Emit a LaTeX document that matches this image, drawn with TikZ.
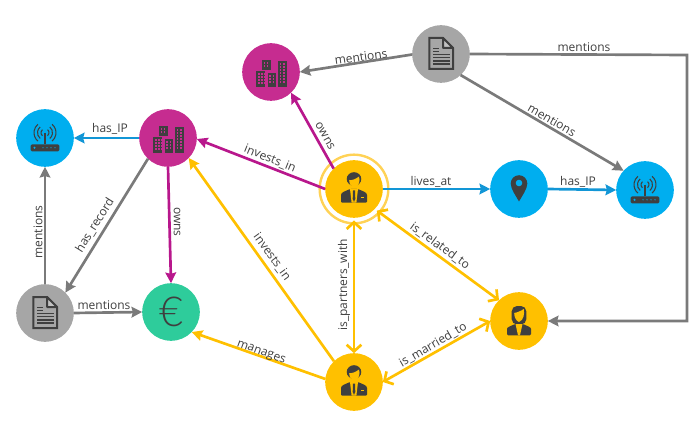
\documentclass[tikz,border=0pt]{standalone}
\usepackage{fontspec}
\setmainfont{Open Sans}
\newfontfamily\eurofont{Lato Light}
\usetikzlibrary{arrows.meta}
\definecolor{skyfill}{HTML}{00AEEF}
\definecolor{skyline}{HTML}{1296D6}
\definecolor{plumfill}{HTML}{C62C90}
\definecolor{plumline}{HTML}{B8178C}
\definecolor{ashfill}{HTML}{A6A6A6}
\definecolor{ashline}{HTML}{7A7A7A}
\definecolor{goldfill}{HTML}{FFC000}
\definecolor{ringline}{HTML}{FFD256}
\definecolor{mintfill}{HTML}{2ECC9B}
\definecolor{icon}{HTML}{3F3F3F}
\tikzset{
	disc/.style={circle,minimum size=43.2pt,inner sep=0pt,outer sep=0pt},
	sky/.style={disc,fill=skyfill},
	plum/.style={disc,fill=plumfill},
	ash/.style={disc,fill=ashfill},
	gold/.style={disc,fill=goldfill},
	mint/.style={disc,fill=mintfill},
	rel/.style={text=icon,inner sep=0pt,font=\fontsize{9}{10}\selectfont},
	skyedge/.style={draw=skyline,line width=2pt,-{Stealth[length=8pt,width=8pt,inset=1pt]}},
	plumedge/.style={draw=plumline,line width=2pt,-{Stealth[length=8pt,width=8pt,inset=1pt]}},
	ashedge/.style={draw=ashline,line width=2pt,-{Stealth[length=8pt,width=8pt,inset=1pt]}},
	goldedge/.style={draw=goldfill,line width=2pt,-{Stealth[length=8pt,width=8pt,inset=1pt]}},
	kinedge/.style={draw=goldfill,line width=2pt,{Straight Barb[length=5pt,width=11pt]}-{Straight Barb[length=5pt,width=11pt]}},
	pics/building/.style={code={
		\fill[icon] (-14.7,-1.3) rectangle (-5.7,14.7);
		\fill[icon] (-9.3,-12) rectangle (0,-2);
		\fill[icon] (-3.3,1.3) rectangle (5.3,14.7);
		\fill[icon] (7,-10.7) rectangle (16.3,14.7);
		\foreach \i in {-13,-10,-7.3}
			\foreach \j in {1,4,7,10}
				\fill[plumfill] (\i,\j) rectangle ++(1.6,1.6);
		\foreach \i in {-7.5,-4.5}
			\foreach \j in {-10,-7}
				\fill[plumfill] (\i,\j) rectangle ++(1.6,1.6);
		\foreach \i in {-1.6,1.8}
			\foreach \j in {3.5,6.5,9.5}
				\fill[plumfill] (\i,\j) rectangle ++(1.6,1.6);
		\foreach \i in {8.8,12.4}
			\foreach \j in {-8.5,-5.5,-2.5,0.5,3.5,6.5,9.5}
				\fill[plumfill] (\i,\j) rectangle ++(1.6,1.6);
	}},
	pics/router/.style={code={
		\fill[icon,rounded corners=1pt] (-14.3,6.3) rectangle (14.3,13.3);
		\foreach \i in {-2,2,6,10}
			\fill[skyfill] (\i,9.8) circle (0.7);
		\fill[skyfill] (-10.5,9.8) circle (1.2);
		\draw[icon,line width=1pt] (0,-5.3) -- (0,6.3);
		\foreach \r in {4,7.5,11} {
			\draw[icon,line width=0.8pt,shift={(0,-5.3)}] (-50:\r) arc (-50:50:\r);
			\draw[icon,line width=0.8pt,shift={(0,-5.3)}] (130:\r) arc (130:230:\r);
		}
	}},
	pics/paper/.style={code={
		\draw[icon,line width=1.5pt,line join=miter] (-11.7,-16) -- (2,-16) -- (12,-6) -- (12,15) -- (-11.7,15) -- cycle;
		\draw[icon,line width=1.5pt,fill=ashfill!70!white] (2,-16) -- (2,-6) -- (12,-6) -- cycle;
		\foreach \j in {-5.5,-2.5}
			\draw[icon,line width=1.1pt] (-8,\j) -- (-2,\j);
		\foreach \j in {0.5,3.5,6.8,10}
			\draw[icon,line width=1.1pt] (-8,\j) -- (8.5,\j);
	}},
	pics/man/.style={code={
		\fill[icon,rounded corners=0.8pt] (-13,13.7) -- (-13,7) .. controls (-13,3) and (-8,2) .. (-4,0) -- (4,0) .. controls (8,2) and (13,3) .. (13,7) -- (13,13.7) -- cycle;
		\fill[goldfill] (-4,0) -- (4,0) -- (2.4,13.7) -- (-2.4,13.7) -- cycle;
		\fill[icon] (-1,1.5) -- (1,1.5) -- (1.3,10) -- (0,12.8) -- (-1.3,10) -- cycle;
		\fill[goldfill] (6.5,8) rectangle (10,9);
		\fill[icon] (0,-10) ellipse (7.3 and 6.8);
		\fill[goldfill] (-4.8,-9) .. controls (-2,-8.5) and (2,-10) .. (5,-12.5) .. controls (6.5,-8) and (5,-3) .. (0,-1.5) .. controls (-3,-2.5) and (-4.8,-5) .. (-4.8,-9) -- cycle;
	}},
	pics/woman/.style={code={
		\fill[icon,rounded corners=0.8pt] (-12,14.3) -- (-12,9) .. controls (-12,6) and (-8,5) .. (-4,3) -- (4,3) .. controls (8,5) and (12,6) .. (12,9) -- (12,14.3) -- cycle;
		\fill[icon,rounded corners=4pt] (-7.3,3.5) -- (-7.3,-15) -- (7.3,-15) -- (7.3,3.5) -- cycle;
		\fill[goldfill] (-3.5,3) -- (3.5,3) -- (1,14.3) -- (-1,14.3) -- cycle;
		\fill[goldfill] (-4.8,-8) .. controls (-2,-8.5) and (2,-10) .. (4.8,-12) .. controls (5.5,-7) and (5,-1) .. (0,1) .. controls (-3,0) and (-4.8,-4) .. (-4.8,-8) -- cycle;
	}},
	pics/marker/.style={code={
		\fill[icon] (0,12.5) .. controls (-3,7) and (-8.3,0) .. (-8.3,-5.5) arc (180:360:8.3) .. controls (8.3,0) and (3,7) .. (0,12.5) -- cycle;
		\fill[skyfill] (0,-6) circle (3.3);
	}}
}
\begin{document}
\begin{tikzpicture}[x=0.75pt,y=-0.75pt,line join=round,>=stealth]
	\useasboundingbox (0,0) rectangle (700,431);
	% nodes
	\node[sky] (routerA) at (45,138) {};
	\node[plum] (companyA) at (168,138) {};
	\node[ash] (paperA) at (45,313) {};
	\node[mint] (euro) at (171,312) {};
	\node[plum] (companyB) at (271,72) {};
	\node[ash] (paperB) at (441,54) {};
	\node[gold] (manA) at (354,189) {};
	\node[circle,draw=ringline,line width=1.8pt,minimum size=51.5pt,inner sep=0pt] (ring) at (354,189) {};
	\node[sky] (pin) at (519,189) {};
	\node[sky] (routerB) at (645,190) {};
	\node[gold] (woman) at (519,321) {};
	\node[gold] (manB) at (354,382) {};
	\coordinate (cornerA) at (687,55);
	\coordinate (cornerB) at (687,321);
	% icons
	\pic at (routerA) {router};
	\pic at (routerB) {router};
	\pic at (companyA) {building};
	\pic at (companyB) {building};
	\pic at (paperA) {paper};
	\pic at (paperB) {paper};
	\pic at (manA) {man};
	\pic at (manB) {man};
	\pic at (woman) {woman};
	\pic at (pin) {marker};
	\node[inner sep=0pt,text=icon,font=\eurofont\fontsize{31}{31}\selectfont] (euroSign) at (euro) {€};
	% connectors
	\draw[skyedge] (companyA.180) -- (routerA.0);
	\draw[skyedge] (manA.0) -- (pin.180);
	\draw[skyedge] (pin.0) -- (routerB.180);
	\draw[ashedge] (paperA.90) -- (routerA.-90);
	\draw[ashedge] (companyA.-134) -- (paperA.45);
	\draw[ashedge] (paperA.0) -- (euro.180);
	\draw[ashedge] (paperB.181) -- (companyB.0);
	\draw[ashedge] (paperB.-47) -- (routerB.138);
	\draw[ashedge,line join=miter] (paperB.0) -- (cornerA) -- (cornerB) -- (woman.0);
	\draw[plumedge] (companyA.-90) -- (euro.90);
	\draw[plumedge] (manA.180) -- (companyA.-2);
	\draw[plumedge] (manA.135) -- (companyB.-46);
	\draw[goldedge] (manB.134) -- (companyA.-44);
	\draw[goldedge] (manB.174) -- (euro.-44);
	\draw[kinedge,shorten <=2pt] (manA.-44) -- (woman.134);
	\draw[kinedge,shorten <=2pt] (manA.-90) -- (manB.90);
	\draw[kinedge] (manB.0) -- (woman.180);
	% labels
	\node[rel] (ipA) at (110,129) {has\_IP};
	\node[rel,rotate=90] (mentionsA) at (38,232) {mentions};
	\node[rel,rotate=58] (record) at (95,225) {has\_record};
	\node[rel,rotate=-90] (ownsA) at (177,222) {owns};
	\node[rel] (mentionsB) at (104,305) {mentions};
	\node[rel,rotate=8] (mentionsC) at (361,57) {mentions};
	\node[rel,rotate=-60] (ownsB) at (325,136) {owns};
	\node[rel,rotate=-22] (investsA) at (270,159) {invests\_in};
	\node[rel] (lives) at (431,182) {lives\_at};
	\node[rel] (ipB) at (578,182) {has\_IP};
	\node[rel] (mentionsD) at (584,47) {mentions};
	\node[rel,rotate=-30] (mentionsE) at (552,120) {mentions};
	\node[rel,rotate=-36] (related) at (440,246) {is\_related\_to};
	\node[rel,rotate=90] (partners) at (344,285) {is\_partners\_with};
	\node[rel,rotate=30] (married) at (433,345) {is\_married\_to};
	\node[rel,rotate=-54] (investsB) at (272,257) {invests\_in};
	\node[rel,rotate=-20] (manages) at (261,353) {manages};
\end{tikzpicture}
\end{document}
